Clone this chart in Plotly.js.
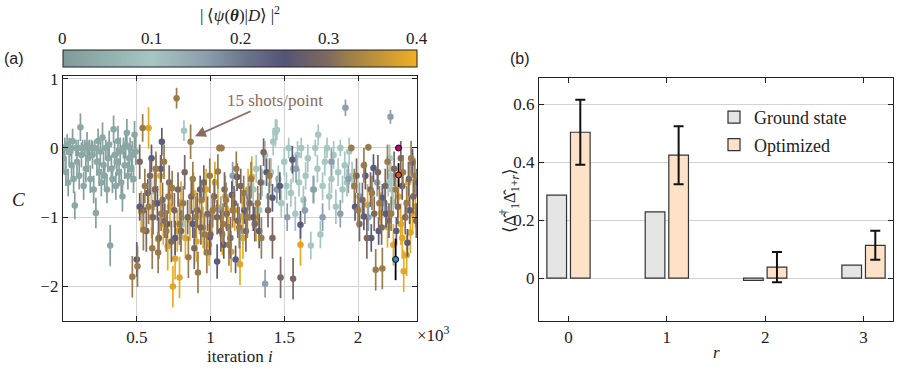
<!DOCTYPE html>
<html>
<head>
<meta charset="utf-8">
<script src="https://cdn.plot.ly/plotly-3.0.1.min.js"></script>
<style>
  body { margin: 0; background: #fff; }
  #fig { width: 897px; height: 371px; }
</style>
</head>
<body>
<div id="fig"></div>
<script>
// ---- panel (a): cost C per iteration, grouped by overlap |<psi|D>|^2 ----
// teal-gray, overlap ~0.03
const iterA = [5,12,20,28,35,42,50,58,65,72,
  80,88,95,103,110,118,125,133,140,148,
  155,163,170,178,185,193,200,208,215,223,
  230,238,245,253,260,268,275,283,290,298,
  305,313,320,328,335,343,350,358,365,373,
  380,388,395,403,410,418,425,433,440,448,
  455,463,470,478,485,493];
const costA = [-0.15,0,-0.35,0.05,-0.5,-0.05,0,-0.25,0.1,-0.45,
  -0.83,0,-0.2,0,-0.4,0.3,-0.1,0,-0.55,0,
  -0.3,0.05,-0.15,0,-0.45,0,-0.1,-0.6,0,-0.94,
  -0.2,0.1,-0.35,-0.05,-0.5,0.15,-0.25,-0.4,0,-0.6,
  -0.15,0.05,-1.41,-0.3,-0.45,0.27,-0.1,-0.55,-0.2,0.1,
  -0.35,-0.05,-0.5,-0.7,0,-0.25,0.05,0.22,-0.4,-0.15,
  0,-0.3,-0.1,-0.45,0.19,-0.05];
const errA = [.2,.15,.2,.15,.2,.2,.12,.2,.18,.2,
  .2,.12,.2,.12,.2,.2,.18,.12,.2,.12,
  .2,.18,.2,.12,.2,.12,.2,.2,.12,.22,
  .2,.18,.2,.2,.2,.22,.2,.2,.12,.2,
  .2,.2,.3,.2,.2,.2,.2,.2,.2,.22,
  .2,.2,.2,.22,.15,.2,.2,.2,.2,.2,
  .15,.2,.2,.2,.2,.2];

// light teal, overlap ~0.1
const iterB = [600,820,810,1290,1310,1330,1350,1370,1395,1410,
  1425,1440,1450,1460,1480,1500,1515,1530,1545,1560,
  1575,1590,1600,1615,1630,1645,1660,1680,1695,1710,
  1725,1730,1745,1760,1775,1790,1805,1820,1835,1850,
  1865,1880,1895,1910,1925,1940,1960,2205,2215,2222,
  2230,2238];
const costB = [-0.63,0.25,-1.1,-0.6,-0.3,-0.9,-0.5,-0.1,-0.7,-0.35,
  0.09,0.22,0.26,-0.45,-0.8,-0.2,-0.55,0,-0.65,-0.3,
  -0.95,-0.1,-0.5,0,-0.75,-0.4,-0.15,-1.41,-0.6,0,
  -0.3,0.19,-1.25,-0.55,-0.2,0,-0.7,-0.45,-0.1,-0.85,
  -0.35,0,-0.6,-0.25,-0.5,-0.05,-0.4,-0.5,-0.15,-0.4,
  -0.6,-0.78];
const errB = [.2,.15,.2,.2,.2,.25,.2,.2,.2,.2,
  .2,.2,.15,.2,.2,.2,.2,.15,.2,.2,
  .25,.2,.2,.15,.2,.2,.2,.2,.2,.12,
  .2,.15,.2,.2,.2,.15,.2,.2,.2,.25,
  .2,.12,.2,.2,.2,.2,.2,.2,.2,.2,
  .2,.2];

// blue-gray, overlap ~0.16
const iterC = [630,1070,1150,1200,1260,1370,1450,1520,1580,1640,
  1700,1760,1820,1880,1915,1935,2010,2070,2130,2180,2220];
const costC = [-0.3,-0.9,-0.4,-1.2,-0.7,-1.96,-0.6,-1.0,-0.3,-0.9,
  -0.6,-1.0,-0.2,-0.95,0.58,-0.45,-0.7,-1.0,-0.5,-0.8,0.45];
const errC = [.2,.2,.2,.25,.2,.2,.2,.2,.2,.2,
  .2,.2,.2,.2,.12,.2,.2,.2,.2,.2,.1];

// dark slate, overlap ~0.23
const iterD = [500,520,575,600,640,665,670,705,760,880,
  930,995,1045,1090,1145,1170,1180,1230,1290,1330,
  1380,1420,1470,1555,1610,1980,2040,2050,2090,2105,
  2140,2165,2190,2260,2300,2335,2350,2370,2400];
const costD = [-1.61,-0.85,-0.65,-0.15,-0.8,-0.3,0.09,-1.1,-1.3,-1.1,
  -0.6,-1.29,-1.64,-1.4,-0.68,-1.61,-0.42,-0.9,-1.0,-1.2,
  -0.35,-0.72,-0.55,-0.17,-1.11,-0.85,-0.99,-0.4,-1.3,-0.29,
  -1.2,-0.72,-0.95,-1.2,-0.55,-1.37,-0.9,-0.21,-0.5];
const errD = [.25,.2,.2,.2,.25,.2,.2,.2,.25,.2,
  .2,.25,.25,.2,.2,.2,.2,.2,.2,.25,
  .2,.2,.2,.2,.2,.2,.2,.2,.2,.2,
  .2,.2,.2,.2,.2,.2,.2,.2,.2];

// brown-gray, overlap ~0.29
const iterE = [520,545,565,590,610,625,650,675,690,720,
  735,755,780,800,825,845,870,890,910,935,
  955,980,1000,1025,1045,1070,1095,1110,1135,1160,
  1185,1205,1240,1265,1300,1340,1360,1390,1420,1475,
  1560,1990,2010,2030,2060,2085,2110,2135,2160,2185,
  2210,2245,2270,2290,2320,2345,2375,2395];
const costE = [-0.2,-0.9,-1.2,-0.4,-1.0,-0.6,-1.3,-0.75,-1.05,-0.5,
  -1.35,-0.9,-0.6,-1.2,-0.35,-1.0,-0.7,-1.45,-0.9,-1.15,
  -0.5,-0.95,-1.25,-0.7,-1.0,-1.2,-0.6,-0.95,-1.3,-0.8,
  -1.05,-0.55,-1.2,-0.8,-1.1,-0.5,-0.06,-0.9,-1.3,-1.87,
  -1.89,-0.4,-1.1,-0.75,-1.3,-0.6,-0.95,-0.35,-1.15,-0.55,
  -1.05,-0.3,-0.85,-0.15,-1.0,-0.45,-0.7,-1.05];
const errE = [.25,.25,.3,.25,.25,.25,.3,.25,.25,.25,
  .3,.25,.25,.3,.25,.25,.25,.3,.25,.25,
  .25,.25,.3,.25,.25,.3,.25,.25,.3,.25,
  .25,.25,.3,.25,.25,.25,.2,.25,.3,.3,
  .3,.25,.25,.25,.3,.25,.25,.25,.25,.25,
  .25,.25,.25,.25,.25,.25,.25,.25];

// olive brown, overlap ~0.32
const iterF = [470,505,540,545,555,580,605,630,645,665,
  685,700,715,740,770,790,815,850,865,880,
  900,915,940,960,975,995,1015,1050,1060,1075,
  1085,1105,1125,1150,1175,1195,1225,1250,1275,1320,
  1345,1400,1955,1975,2000,2040,2070,2095,2120,2145,
  2165,2200,2225,2255,2305,2330,2360,2385];
const costF = [-1.86,-1.71,0.29,-1.18,-0.55,-0.85,-1.45,-0.3,-1.51,-0.95,
  -0.2,-1.2,-0.7,-0.58,0.72,-1.1,-0.8,-1.58,0.09,-0.45,
  -1.0,-1.8,-0.75,-1.25,-1.51,-0.4,-0.9,-0.34,0,0,
  -1.1,-0.75,-1.4,-0.9,-0.3,-1.15,-0.65,-1.0,-0.45,-0.8,
  -1.3,-0.4,0,-0.55,-0.9,-0.25,0.01,-0.65,-1.76,-0.8,
  -1.74,-0.2,-0.95,-0.6,-0.35,-0.8,-0.15,-0.4];
const errF = [.3,.3,.2,.3,.25,.25,.3,.25,.3,.25,
  .25,.3,.25,.25,.15,.3,.25,.3,.25,.25,
  .3,.3,.25,.3,.3,.25,.25,.25,.05,.05,
  .3,.25,.3,.25,.25,.3,.25,.3,.25,.25,
  .3,.25,.05,.25,.25,.25,.05,.25,.3,.25,
  .3,.25,.25,.25,.25,.25,.25,.25];

// gold, overlap ~0.385
const iterG = [530,580,600,620,645,660,680,710,725,745,
  760,775,790,800,830,860,885,905,925,950,
  970,990,1010,1030,1050,1080,1100,1120,1140,1165,
  1200,1215,1220,1255,1280,1310,1610,2065,2155,2200,
  2240,2275,2290,2300,2310,2330,2340,2355,2370,2390];
const costG = [-0.92,0.29,-1.0,-0.6,-1.32,-0.4,-1.1,-1.42,-0.85,-2.0,
  -1.6,-1.2,-1.87,-0.78,-1.3,-1.04,-0.65,-1.35,-0.95,-1.15,
  -0.6,-1.4,-1.0,-0.5,-0.86,-1.25,-0.7,-1.14,-1.5,-0.9,
  -1.68,-0.99,-1.3,-0.6,-0.42,-1.05,-1.4,-0.82,-0.94,-1.14,
  -1.4,-0.7,-1.1,-1.3,-1.78,-1.55,-0.5,-1.22,-0.95,-0.85];
const errG = [.3,.3,.3,.3,.3,.3,.3,.35,.3,.3,
  .3,.3,.3,.3,.3,.3,.3,.3,.3,.3,
  .3,.3,.3,.3,.3,.3,.3,.3,.3,.3,
  .3,.3,.3,.3,.3,.3,.3,.3,.3,.3,
  .3,.3,.3,.3,.3,.3,.3,.3,.3,.3];

// highlighted iterations (black error bars)
const iterMark = [2275, 2275, 2255];
const costMark = [0, -0.39, -1.61];
const errMark = [0, 0.17, 0.3];
const markColors = ['#c8007e', '#e0531a', '#2a8ad8'];

// ---- panel (b): correlators ----
const rVals = [0, 1, 2, 3];
const groundVals = [0.286, 0.228, -0.008, 0.045];
const optVals = [0.503, 0.424, 0.038, 0.113];
const optErr = [0.112, 0.1, 0.052, 0.05];

const cbTicks = [0, 0.1, 0.2, 0.3, 0.4];
const cbTickText = ['0', '0.1', '0.2', '0.3', '0.4'];

const serif = 'Liberation Serif';
const ink = '#222';
const W = 897, H = 371;

const fidScale = [[0,'#7f9b99'],[0.25,'#a6c6c2'],[0.4,'#8d9fad'],[0.5,'#707a91'],
  [0.625,'#555476'],[0.75,'#7f6a5f'],[0.8,'#9a7c4c'],[1,'#f0b020']];

// gold drawn first so the browns sit on top of it, as in the original
const groups = [
  {x: iterA, y: costA, e: errA, fid: 0.03, col: '#849f9d'},
  {x: iterG, y: costG, e: errG, fid: 0.385, col: '#e8ab22'},
  {x: iterB, y: costB, e: errB, fid: 0.10, col: '#a6c6c2'},
  {x: iterC, y: costC, e: errC, fid: 0.16, col: '#8d9fad'},
  {x: iterD, y: costD, e: errD, fid: 0.24, col: '#5a5a7c'},
  {x: iterE, y: costE, e: errE, fid: 0.295, col: '#7a6662'},
  {x: iterF, y: costF, e: errF, fid: 0.32, col: '#9a7c4c'}
];

const data = groups.map((g, k) => ({
  type: 'scatter', mode: 'markers', x: g.x, y: g.y,
  xaxis: 'x', yaxis: 'y', showlegend: false, hoverinfo: 'skip',
  error_y: {type: 'data', array: g.e, visible: true, color: g.col, thickness: 1.7, width: 0},
  marker: {
    size: 6.5, color: g.x.map(() => g.fid), colorscale: fidScale, cmin: 0, cmax: 0.4,
    showscale: k === 0,
    colorbar: {
      orientation: 'h', lenmode: 'pixels', len: 354, thickness: 17,
      x: 63 / W, xanchor: 'left', y: 1 - 50 / H, yanchor: 'top',
      xpad: 0, ypad: 0, outlinewidth: 1, outlinecolor: ink,
      ticks: '', showticklabels: false
    }
  }
}));

data.push({
  type: 'scatter', mode: 'markers', x: iterMark, y: costMark,
  xaxis: 'x', yaxis: 'y', showlegend: false, hoverinfo: 'skip',
  error_y: {type: 'data', array: errMark, color: '#000', thickness: 1.8, width: 0},
  marker: {size: 6, color: markColors, line: {color: '#000', width: 1}}
});

data.push({
  type: 'bar', name: 'Ground state', legendgroup: 'gs', x: rVals, y: groundVals,
  xaxis: 'x2', yaxis: 'y2', width: 0.2, offset: -0.22,
  marker: {color: '#e5e5e5', line: {color: '#333', width: 1.2}}
});
data.push({
  type: 'bar', name: 'Optimized', legendgroup: 'opt', x: rVals, y: optVals,
  xaxis: 'x2', yaxis: 'y2', width: 0.2, offset: 0.02,
  error_y: {type: 'data', array: optErr, color: '#111', thickness: 2, width: 5},
  marker: {color: '#fde2c8', line: {color: '#333', width: 1.2}}
});

const axBase = {
  ticks: 'inside', ticklen: 5, tickcolor: ink, tickwidth: 1,
  mirror: 'ticks', showline: true, linecolor: ink, linewidth: 1.2,
  zeroline: false, gridcolor: '#d2d2d2', gridwidth: 1,
  tickfont: {family: serif, size: 17, color: ink}
};

function note(px, py, text, extra) {
  return Object.assign({
    xref: 'paper', yref: 'paper', x: px / W, y: 1 - py / H,
    xanchor: 'center', yanchor: 'middle', showarrow: false, text: text,
    font: {family: serif, size: 17, color: ink}
  }, extra || {});
}

// colorbar tick labels and dashed separators
const cbPx = v => 63 + v / 0.4 * 354;
const annotations = cbTicks.map((v, i) => note(cbPx(v), 38, cbTickText[i]));
const shapes = cbTicks.slice(1, -1).map(v => ({
  type: 'line', xref: 'paper', yref: 'paper', x0: cbPx(v) / W, x1: cbPx(v) / W,
  y0: 1 - 67 / H, y1: 1 - 50 / H, line: {color: '#111', width: 1.2, dash: '4px,4px'}
}));

const sans = {family: 'Liberation Sans', size: 16, color: ink};
annotations.push(
  note(240, 14, '|\u2009⟨<i>ψ</i>(<b><i>θ</i></b>)|<i>D</i>⟩\u2009|<sup>2</sup>'),
  note(14, 58, '(a)', {font: sans}),
  note(520, 58, '(b)', {font: sans}),
  note(18, 200, '<i>C</i>', {font: {family: serif, size: 19, color: ink}}),
  note(240, 356, 'iteration <i>i</i>'),
  note(433, 334, '×10<sup>3</sup>'),
  note(510, 200, '⟨Δ\u0302<sup>†</sup><sub>1</sub>Δ\u0302<sub>1+<i>r</i></sub>⟩', {textangle: -90}),
  note(716, 352, '<i>r</i>'),
  {xref: 'x', yref: 'y', x: 895, y: 0.17, ax: 80, ay: -36,
   xanchor: 'center', yanchor: 'middle',
   text: '15 shots/point', showarrow: true, arrowhead: 2, arrowsize: 1.2,
   arrowwidth: 1.8, arrowcolor: '#8b6a60',
   font: {family: serif, size: 17, color: '#8b6a60'}}
);

const layout = {
  width: W, height: H,
  margin: {l: 0, r: 0, t: 0, b: 0},
  paper_bgcolor: '#fff', plot_bgcolor: '#fff',
  font: {family: serif, size: 17, color: ink},
  barmode: 'overlay',
  xaxis: Object.assign({}, axBase, {
    domain: [63 / W, 417 / W], range: [0, 2400], anchor: 'y',
    tickvals: [500, 1000, 1500, 2000], ticktext: ['0.5', '1', '1.5', '2'], showgrid: true
  }),
  yaxis: Object.assign({}, axBase, {
    domain: [1 - 321 / H, 1 - 76 / H], range: [-2.5, 1.04], anchor: 'x',
    tickvals: [-2, -1, 0, 1], showgrid: true
  }),
  xaxis2: Object.assign({}, axBase, {
    domain: [539 / W, 893 / W], range: [-0.3, 3.3], anchor: 'y2',
    tickvals: [0, 1, 2, 3], showgrid: false
  }),
  yaxis2: Object.assign({}, axBase, {
    domain: [1 - 321 / H, 1 - 78 / H], range: [-0.148, 0.69], anchor: 'x2',
    tickvals: [0, 0.2, 0.4, 0.6], showgrid: true
  }),
  legend: {
    x: 714 / W, y: 1 - 99 / H, xanchor: 'left', yanchor: 'top',
    bgcolor: 'rgba(0,0,0,0)', font: {family: serif, size: 18, color: ink},
    tracegroupgap: 1, itemwidth: 30
  },
  annotations: annotations,
  shapes: shapes
};

Plotly.newPlot('fig', data, layout, {displayModeBar: false, staticPlot: true});
</script>
</body>
</html>
